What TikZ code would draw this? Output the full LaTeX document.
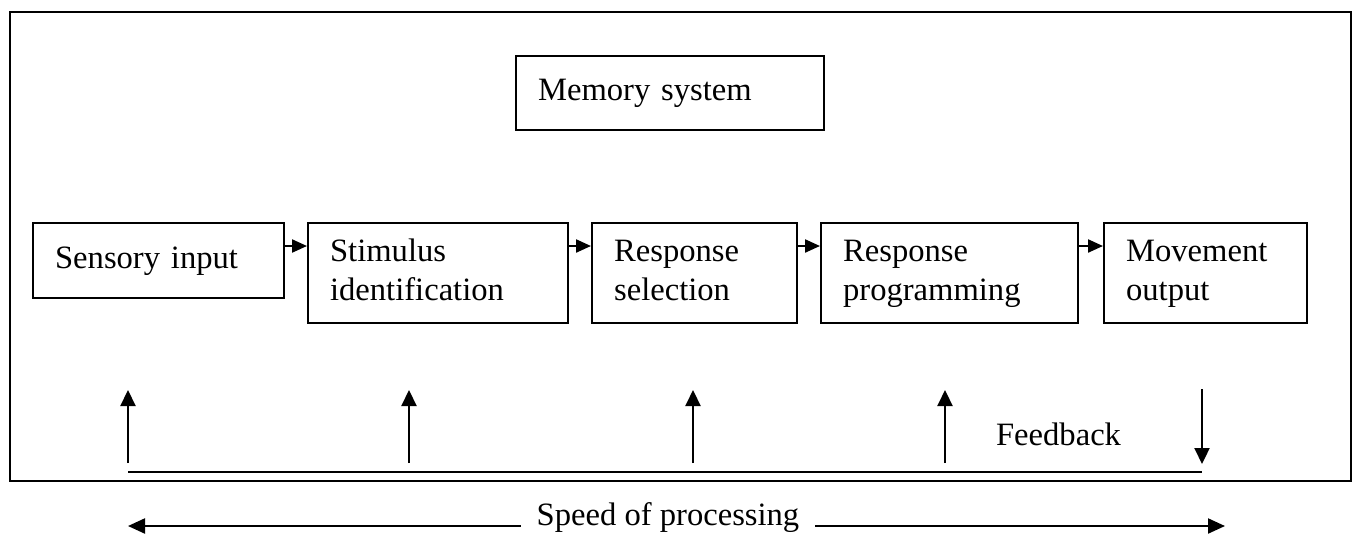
\documentclass[tikz,border=0pt]{standalone}
\usepackage{fontspec}
\setmainfont{Liberation Serif}
\usetikzlibrary{arrows.meta}
\begin{document}
\begin{tikzpicture}[x=0.5pt,y=-0.5pt,
  line width=1.1pt,
  font=\fontsize{16.3}{19.5}\selectfont,
  stagebox/.style={draw, line width=1.1pt, anchor=north west, align=left,
    inner xsep=11pt, inner ysep=0pt},
  flow/.style={-{Triangle[length=7.5pt,width=6.5pt]}},
  fb/.style={-{Triangle[length=8pt,width=7.5pt]}},
  spd/.style={-{Triangle[length=8.5pt,width=7.5pt]}}]
\useasboundingbox (0,0) rectangle (1353,536);

% outer frame
\draw[line width=1pt] (10,12) rectangle (1351,481);

% memory store
\node[stagebox, text width=132pt, minimum height=37pt] (mem) at (515,55) {Memory system};

% processing stages (struts keep the baselines level from box to box)
\node[stagebox, text width=103.5pt, minimum height=37.5pt] (sens) at (32,222) {\strut Sensory input};
\node[stagebox, text width=108pt, minimum height=50pt] (stim) at (307,222) {\strut Stimulus\\\strut identification};
\node[stagebox, text width=80.5pt, minimum height=50pt] (sel) at (591,222) {\strut Response\\\strut selection};
\node[stagebox, text width=106.5pt, minimum height=50pt] (prog) at (820,222) {\strut Response\\\strut programming};
\node[stagebox, text width=79.5pt, minimum height=50pt] (move) at (1103,222) {\strut Movement\\\strut output};

\coordinate (rowy) at (0,246);
\draw[flow] (sens.east |- rowy) -- (stim.west |- rowy);
\draw[flow] (stim.east |- rowy) -- (sel.west |- rowy);
\draw[flow] (sel.east |- rowy) -- (prog.west |- rowy);
\draw[flow] (prog.east |- rowy) -- (move.west |- rowy);

% feedback loop
\coordinate (fbL) at (128,472);
\coordinate (fbR) at (1202,472);
\draw (fbL) -- (fbR);
\foreach \xx [count=\i] in {128,409,693,945}{
  \coordinate (ub\i) at (\xx,463);
  \coordinate (ut\i) at (\xx,390);
  \draw[fb] (ub\i) -- (ut\i);
}
\coordinate (dt) at (1202,389);
\coordinate (db) at (1202,464);
\draw[fb] (dt) -- (db);
\node[anchor=base west, inner sep=0pt] (fbtext) at (995,445) {Feedback};

% speed of processing
\node[anchor=base, inner xsep=7.5pt, inner ysep=0pt] (speed) at (668,525) {Speed of processing};
\coordinate (spdL) at (128,526);
\coordinate (spdR) at (1225,526);
\draw[spd] (speed.west |- spdL) -- (spdL);
\draw[spd] (speed.east |- spdR) -- (spdR);
\end{tikzpicture}
\end{document}
